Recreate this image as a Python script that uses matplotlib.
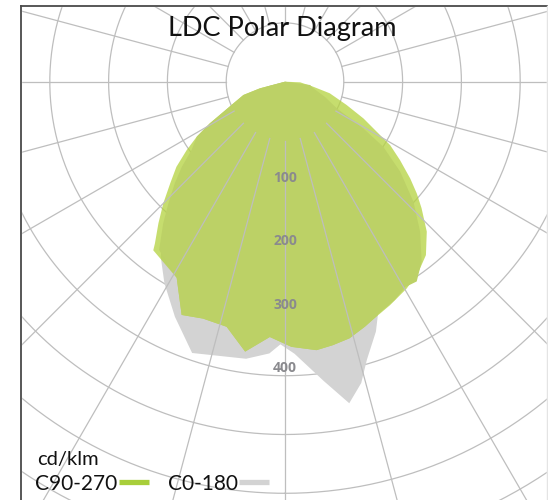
import numpy as np
import matplotlib
matplotlib.use("Agg")
import matplotlib.pyplot as plt
from matplotlib.lines import Line2D
from matplotlib.patches import Rectangle

# ---------------- data (cd/klm) ----------------
# gamma in degrees: positive = right half of the plane, negative = left half
C90_270_ANG = [-90, -75.2, -72.3, -67.3, -61, -58.1, -53.8, -50.5, -47.3, -43.8, -40.7, -36.8,
               -28.9, -23.9, -19.1, -13.4, -8.4, -3.4, 1.4, 6.7, 10.3, 14.1, 18.1, 22.1,
               26.7, 30.4, 33.4, 37.2, 42, 46.9, 52, 56.5, 59.2, 62.8, 69, 76.9, 82.5, 90]
C90_270_VAL = [0, 41, 69, 88, 136, 164, 183, 211, 237, 266, 295, 332,
               354, 403, 396, 398, 431, 404, 419, 427, 423, 418, 407, 395,
               386, 376, 378, 357, 319, 278, 231, 186, 144, 92, 68, 46, 40, 0]

# outer (lighter) envelope of the C90-270 plane
C90_270_OUT_ANG = [-90, -75.2, -72.3, -67.3, -61, -58.1, -55.2, -51.9, -48.5, -45, -41.8, -38.8, -38,
                   -28.9, -23.9, -19.1, -13.4, -8.4, -3.4, 1.4, 6.7, 10.3, 14.1, 18.1, 21.8,
                   25.2, 30.5, 35.1, 39.1, 43.4, 47.2, 49.7, 52.3, 55.7, 58.9, 61.4, 64.9,
                   69.3, 75.5, 80, 87.7, 90]
C90_270_OUT_VAL = [0, 41, 69, 88, 136, 164, 189, 218, 242, 272, 300, 328, 338,
                   354, 403, 396, 398, 431, 404, 419, 427, 423, 418, 407, 397,
                   390, 379, 367, 353, 326, 294, 273, 250, 220, 194, 165, 137,
                   104, 73, 45, 24, 0]

C0_180_ANG = [-90, -75, -65, -55, -45, -38, -35.4, -30.9, -25.1, -18.9, -8, -3.3, -1,
              2, 7.4, 11.3, 14.2, 16.4, 20, 22, 30, 40, 50, 60, 70, 80, 90]
C0_180_VAL = [0, 28, 95, 166, 237, 312, 339, 371, 410, 453, 442, 430, 415,
              430, 477, 518, 491, 458, 420, 393, 360, 308, 221, 118, 55, 19, 0]

RADIAL_TICKS = [100, 200, 300, 400]
TITLE = "LDC Polar Diagram"
UNIT = "cd/klm"
SERIES_NAMES = ["C90-270", "C0-180"]

# ---------------- style / layout ----------------
W, H, DPI = 548, 500, 100
PX_PER_UNIT = 0.633
CX, CY = 285.0, 81.7          # centre of the diagram in pixels (from top-left)
RMAX = 850
RING = 58.8 / PX_PER_UNIT     # grid ring spacing in data units
LABEL_SHIFT = 52

GREEN = "#A8CE3A"
GREEN_LIGHT = "#B4D23E"
GREEN_DARK = "#BCD166"
GREY = "#D3D3D3"
GRID = "#BEBEBE"

fig = plt.figure(figsize=(W / DPI, H / DPI), dpi=DPI)
fig.patch.set_facecolor("white")

R_px = RMAX * PX_PER_UNIT
ax = fig.add_axes([(CX - R_px) / W, (H - CY - R_px) / H, 2 * R_px / W, 2 * R_px / H],
                  projection="polar")
ax.set_theta_zero_location("S")
ax.set_theta_direction(1)
ax.set_ylim(0, RMAX)
ax.grid(False)
ax.set_xticks([])
ax.set_yticks([])
ax.spines["polar"].set_visible(False)
ax.patch.set_facecolor("white")

# rings
tt = np.linspace(0, 2 * np.pi, 721)
for k in range(1, 10):
    ax.plot(tt, np.full_like(tt, k * RING), color=GRID, lw=0.9, zorder=1)

# series fills
rad = np.deg2rad
ax.fill(rad(C0_180_ANG), C0_180_VAL, color=GREY, lw=0, zorder=2)
ax.fill(rad(C90_270_OUT_ANG), C90_270_OUT_VAL, color=GREEN_LIGHT, alpha=0.75, lw=0, zorder=3)
ax.fill(rad(C90_270_ANG), C90_270_VAL, color=GREEN_DARK, lw=0, zorder=4)

# spokes every 15 degrees starting at the inner ring
for a in range(0, 360, 15):
    ax.plot([rad(a), rad(a)], [RING, RMAX], color=GRID, lw=0.9, zorder=5)

# radial labels
for v in RADIAL_TICKS:
    ax.text(0, v + LABEL_SHIFT, str(v), ha="center", va="center", fontsize=10,
            fontweight="bold", color="#8a8a8e", family="Open Sans", zorder=6)

# masks outside the plot frame
LEFT, TOP, RIGHT = 20.5, 5.7, 547.0
fig.add_artist(Rectangle((0, 0), LEFT / W, 1, transform=fig.transFigure,
                         color="white", zorder=10))
fig.add_artist(Rectangle((0, 1 - TOP / H), 1, TOP / H, transform=fig.transFigure,
                         color="white", zorder=10))
fig.add_artist(Rectangle((RIGHT / W, 0), 1, 1, transform=fig.transFigure,
                         color="white", zorder=10))
fig.add_artist(Line2D([LEFT / W, LEFT / W], [0, 1 - TOP / H], color="#4a4a4a", lw=1.3,
                      transform=fig.transFigure, zorder=11))
fig.add_artist(Line2D([LEFT / W, RIGHT / W], [1 - TOP / H, 1 - TOP / H], color="#4a4a4a",
                      lw=1.3, transform=fig.transFigure, zorder=11))
fig.add_artist(Line2D([RIGHT / W, RIGHT / W], [0, 1 - TOP / H], color="#e4e4e4", lw=1.0,
                      transform=fig.transFigure, zorder=11))

# title
fig.text(282.5 / W, 1 - 36 / H, TITLE, ha="center", va="baseline", fontsize=19.5,
         family="Lato", color="#111111", zorder=12)

# legend
fig.text(37 / W, 1 - 465 / H, UNIT, ha="left", va="baseline", fontsize=14.5,
         family="Lato", color="#111111", zorder=12)
fig.text(35.5 / W, 1 - 490 / H, SERIES_NAMES[0], ha="left", va="baseline", fontsize=15,
         family="Lato", color="#111111", zorder=12)
fig.text(168 / W, 1 - 490 / H, SERIES_NAMES[1], ha="left", va="baseline", fontsize=15,
         family="Lato", color="#111111", zorder=12)
fig.add_artist(Line2D([119 / W, 149 / W], [1 - 481.7 / H] * 2, color=GREEN, lw=3.8,
                      solid_capstyle="butt", transform=fig.transFigure, zorder=12))
fig.add_artist(Line2D([239 / W, 268.7 / W], [1 - 481.7 / H] * 2, color=GREY, lw=3.8,
                      solid_capstyle="butt", transform=fig.transFigure, zorder=12))

fig.savefig("out.png", dpi=DPI)
